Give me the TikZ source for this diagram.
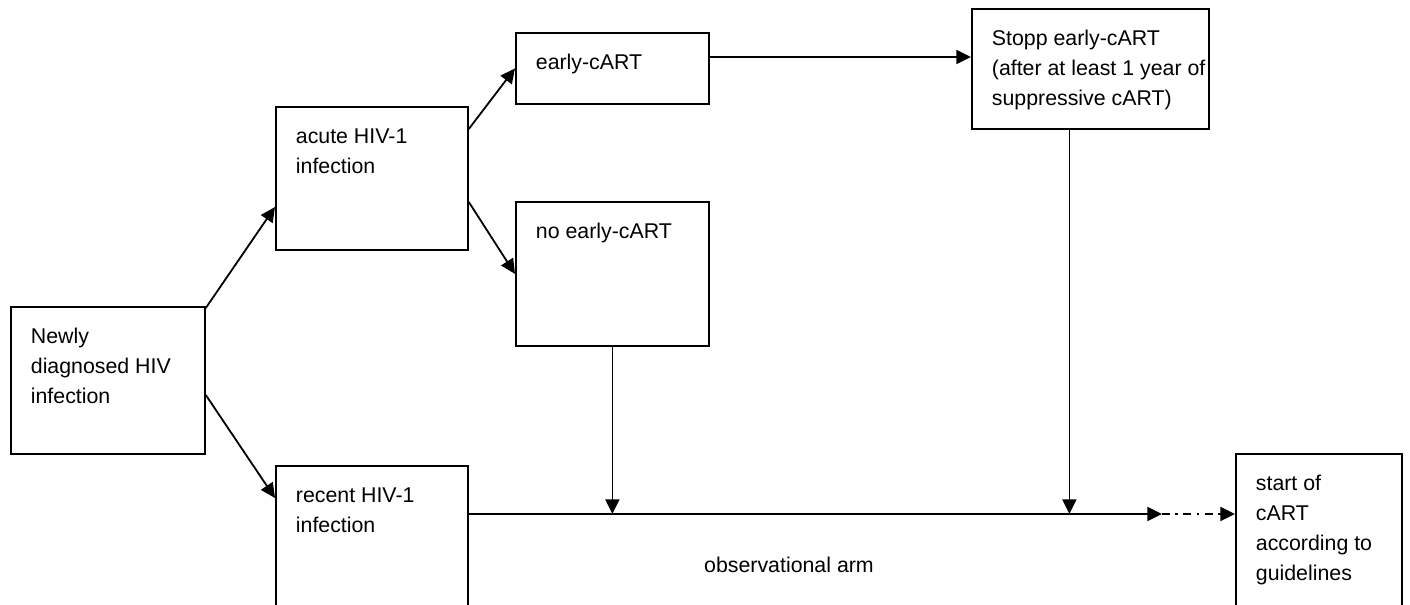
\documentclass[tikz,border=0pt]{standalone}
\usepackage{fontspec}
\setmainfont{Liberation Sans}
\usetikzlibrary{arrows.meta,calc}
\newcommand{\boxtxt}[3]{\parbox[c][#2][t]{#1}{\raggedright\rule{0pt}{27.75pt}#3}}
\tikzset{
  box/.style={draw, line width=1.35pt, anchor=north west, inner xsep=15pt, inner ysep=0pt,
    font=\fontsize{16}{22.5}\selectfont},
  arr/.style={line width=1.35pt, -{Triangle[length=11pt,width=10.5pt]}},
  dashdot/.style={dash pattern=on 6pt off 4pt on 2pt off 4pt},
  plain/.style={font=\fontsize{16}{22.5}\selectfont, inner sep=0pt},
}
\begin{document}
\begin{tikzpicture}[x=0.75pt, y=-0.75pt]
\path[use as bounding box, clip] (0,0) rectangle (1410,605);

\node[box] (new) at (10,306) {\boxtxt{115.5pt}{110.25pt}{Newly\\diagnosed HIV\\infection}};
\node[box] (acute) at (275,106) {\boxtxt{114pt}{107.25pt}{acute HIV-1\\infection}};
\node[box] (early) at (515,32) {\boxtxt{114.75pt}{53.25pt}{early-cART}};
\node[box] (noearly) at (515,201) {\boxtxt{114.75pt}{108pt}{no early-cART}};
\node[box] (stopp) at (971,8) {\boxtxt{147.75pt}{90pt}{Stopp early-cART\\\mbox{(after at least 1 year of}\\suppressive cART)}};
\node[box] (recent) at (275,465) {\boxtxt{114pt}{120pt}{recent HIV-1\\infection}};
\node[box] (start) at (1235,453) {\boxtxt{94.5pt}{127.5pt}{start of\\cART\\according to\\guidelines}};

\node[plain] (obs) at (789,565) {observational arm};

\draw[arr] ($(new.north east)+(0,2)$) -- ($(acute.north west)+(0,101)$);
\draw[arr] ($(new.north east)+(0,89)$) -- ($(recent.north west)+(0,33)$);
\draw[arr] ($(acute.north east)+(0,23)$) -- (early.west);
\draw[arr] ($(acute.north east)+(0,96)$) -- (noearly.west);
\draw[arr] ($(early.north east)+(0,25)$) coordinate (e1) -- (e1 -| stopp.west);

\coordinate (m0) at ($(recent.north east)+(0,49)$);
\coordinate (m1) at (1162,514);
\draw[arr] (m0) -- (m1 |- m0) coordinate (m2);
\draw[arr, dashdot] (m2) -- (m2 -| start.west);
\draw[arr] (noearly.south) -- (noearly.south |- m0);
\draw[arr] ($(stopp.south)+(-21,0)$) coordinate (s1) -- (s1 |- m0);
\end{tikzpicture}
\end{document}
